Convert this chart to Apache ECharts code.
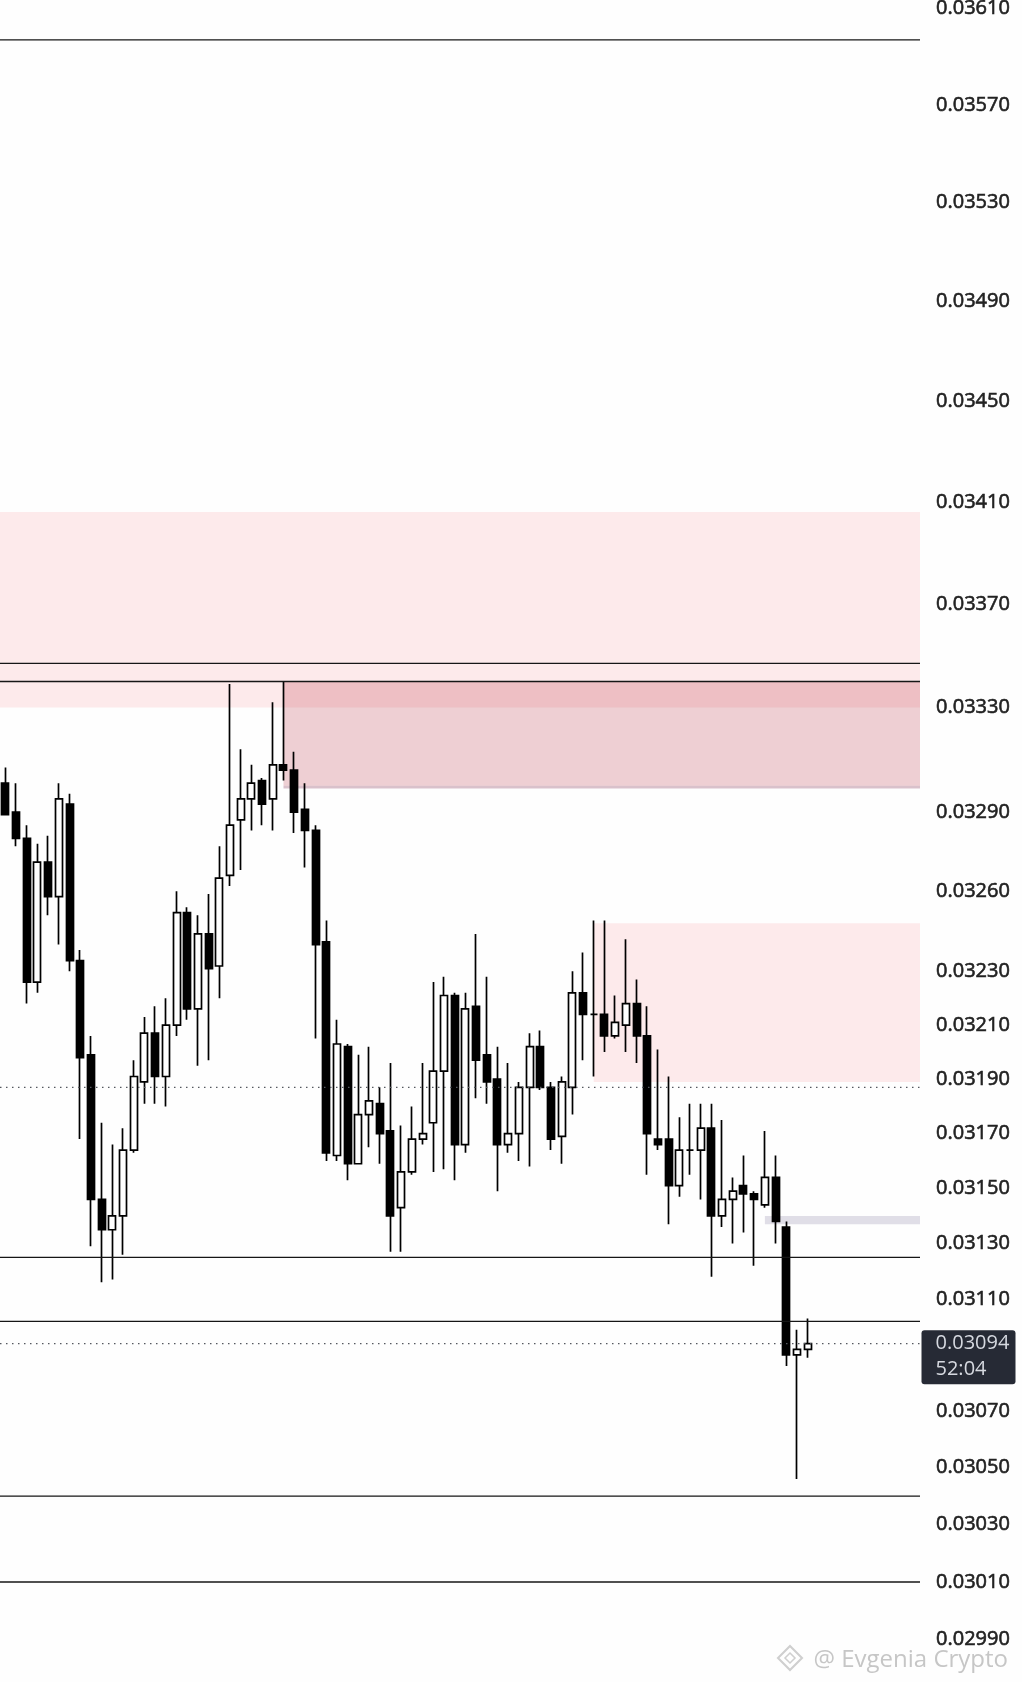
<!DOCTYPE html>
<html>
<head>
<meta charset="utf-8">
<script src="https://cdn.jsdelivr.net/npm/echarts@6/dist/echarts.min.js"></script>
<style>
html,body{margin:0;padding:0;background:#fefefe;}
#c{width:1022px;height:1682px;}
</style>
</head>
<body>
<div id="c"></div>
<script>
// ---- data ----
const candleOpen = [
0.03301,0.03290,0.03280,0.03226,0.03271,0.03258,0.03293,0.03234,0.03199,0.03146,
0.03135,0.03140,0.03164,0.03189,0.03207,0.03191,0.03210,0.03252,0.03216,0.03244,
0.03232,0.03266,0.03287,0.03295,0.03302,0.03295,0.03308,0.03306,0.03291,0.03283,
0.03241,0.03162,0.03202,0.03159,0.03177,0.03181,0.03171,0.03143,0.03156,0.03168,
0.03174,0.03193,0.03221,0.03166,0.03217,0.03199,0.03190,0.03166,0.03170,0.03187,
0.03202,0.03187,0.03169,0.03187,0.03222,0.03214,0.03214,0.03206,0.03210,0.03218,
0.03206,0.03168,0.03168,0.03151,0.03164,0.03164,0.03172,0.03140,0.03146,0.03151,
0.03148,0.03144,0.03154,0.03136,0.03090,0.03092];
const candleHigh = [
0.03307,0.03301,0.03285,0.03278,0.03281,0.03301,0.03297,0.03238,0.03206,0.03174,
0.03166,0.03172,0.03197,0.03213,0.03217,0.03220,0.03260,0.03254,0.03251,0.03259,
0.03277,0.03339,0.03314,0.03308,0.03303,0.03332,0.03340,0.03313,0.03301,0.03285,
0.03249,0.03212,0.03203,0.03199,0.03202,0.03187,0.03196,0.03173,0.03180,0.03196,
0.03226,0.03228,0.03222,0.03222,0.03244,0.03228,0.03202,0.03196,0.03189,0.03207,
0.03208,0.03189,0.03191,0.03230,0.03237,0.03249,0.03249,0.03221,0.03242,0.03227,
0.03217,0.03201,0.03191,0.03176,0.03181,0.03181,0.03181,0.03175,0.03154,0.03162,
0.03149,0.03171,0.03162,0.03138,0.03099,0.03103];
const candleLow = [
0.03289,0.03277,0.03218,0.03222,0.03251,0.03240,0.03230,0.03168,0.03129,0.03116,
0.03117,0.03126,0.03163,0.03181,0.03181,0.03180,0.03206,0.03212,0.03195,0.03197,
0.03220,0.03262,0.03268,0.03283,0.03285,0.03283,0.03302,0.03282,0.03269,0.03205,
0.03160,0.03160,0.03153,0.03159,0.03165,0.03159,0.03127,0.03127,0.03155,0.03166,
0.03156,0.03157,0.03153,0.03163,0.03183,0.03181,0.03149,0.03163,0.03160,0.03158,
0.03186,0.03164,0.03159,0.03177,0.03197,0.03191,0.03200,0.03205,0.03200,0.03196,
0.03155,0.03164,0.03137,0.03147,0.03155,0.03146,0.03118,0.03136,0.03130,0.03134,
0.03122,0.03143,0.03130,0.03086,0.03046,0.03089];
const candleClose = [
0.03289,0.03280,0.03226,0.03271,0.03258,0.03295,0.03234,0.03198,0.03146,0.03135,
0.03140,0.03164,0.03191,0.03207,0.03191,0.03210,0.03252,0.03216,0.03244,0.03231,
0.03265,0.03285,0.03295,0.03301,0.03293,0.03308,0.03306,0.03290,0.03283,0.03240,
0.03163,0.03203,0.03159,0.03177,0.03182,0.03170,0.03140,0.03156,0.03168,0.03170,
0.03193,0.03221,0.03166,0.03216,0.03197,0.03189,0.03166,0.03170,0.03187,0.03202,
0.03187,0.03168,0.03189,0.03222,0.03214,0.03214,0.03206,0.03211,0.03218,0.03206,
0.03170,0.03166,0.03151,0.03164,0.03164,0.03172,0.03140,0.03146,0.03149,0.03148,
0.03146,0.03154,0.03138,0.03090,0.03092,0.03094];

const yTickValues = [0.03610,0.03570,0.03530,0.03490,0.03450,0.03410,0.03370,0.03330,
  0.03290,0.03260,0.03230,0.03210,0.03190,0.03170,0.03150,0.03130,0.03110,
  0.03070,0.03050,0.03030,0.03010,0.02990];
const solidLevels = [0.03597, 0.03347, 0.03340, 0.03125, 0.03102, 0.03040, 0.03010];
const dottedLevels = [0.03187, 0.03094];
const zoneRanges = [[0.03406, 0.03340], [0.03340, 0.03300], [0.03300, 0.03299],
  [0.03340, 0.03330], [0.03248, 0.03189], [0.03140, 0.03137]];
const zoneStartIndex = [null, 26, 26, null, 55, 71];
const priceTagTime = '52:04';
const watermarkText = '@ Evgenia Crypto';
const slotCount = 86;
const yMin = 0.029754, yMax = 0.036136;

// ---- styles ----
const zoneColors = ['rgba(242,54,69,0.10)', 'rgba(180,40,60,0.22)', 'rgba(150,80,110,0.35)',
  'rgba(242,54,69,0.10)', 'rgba(242,54,69,0.10)', 'rgba(120,110,150,0.22)'];
const lineColor = '#161616';
const fontFam = '"Open Sans", "Noto Sans", sans-serif';

const categories = Array.from({length: slotCount}, (_, i) => String(i));
const ohlc = candleOpen.map((o, i) => [o, candleClose[i], candleLow[i], candleHigh[i]]);
const lastClose = candleClose[candleClose.length - 1];

const areaData = zoneRanges.map((r, k) => {
  const a = {yAxis: r[0], itemStyle: {color: zoneColors[k]}};
  if (zoneStartIndex[k] !== null) a.xAxis = zoneStartIndex[k];
  return [a, {yAxis: r[1]}];
});

function levelSeries(v, style) {
  return {
    type: 'line', xAxisIndex: 1, yAxisIndex: 0, silent: true, symbol: 'none',
    data: [[0, v], [1, v]], lineStyle: style, z: 3
  };
}
const levelSeriesList = solidLevels.map(v => levelSeries(v, {color: lineColor, width: 1.4, type: 'solid'}))
  .concat(dottedLevels.map(v => levelSeries(v, {color: '#55585f', width: 1.2, type: [1.5, 4.5]})));

const chart = echarts.init(document.getElementById('c'), null, {renderer: 'canvas'});
const gridRight = 102;
chart.setOption({
  backgroundColor: '#fefefe',
  animation: false,
  grid: {left: 0, right: gridRight, top: 0, bottom: 0, containLabel: false, outerBoundsMode: 'none'},
  xAxis: [
    {type: 'category', data: categories, boundaryGap: true, show: false},
    {type: 'value', min: 0, max: 1, show: false}
  ],
  yAxis: {
    type: 'log', logBase: 10, position: 'right', min: yMin, max: yMax,
    axisLine: {show: false}, axisTick: {show: false}, splitLine: {show: false},
    minorTick: {show: false}, minorSplitLine: {show: false},
    axisLabel: {
      customValues: yTickValues, formatter: v => Number(v).toFixed(5),
      margin: 16, fontSize: 20, color: '#222222', fontFamily: fontFam,
      textBorderColor: '#222222', textBorderWidth: 0.6,
      showMinLabel: true, showMaxLabel: true
    }
  },
  series: [{
    type: 'candlestick',
    data: ohlc,
    barWidth: 7.5,
    itemStyle: {color: '#ffffff', color0: '#000000', borderColor: '#000000', borderColor0: '#000000', borderWidth: 1.7},
    markArea: {silent: true, data: areaData}
  }].concat(levelSeriesList)
});

const plotRight = chart.getWidth() - gridRight;
const yTag = chart.convertToPixel({yAxisIndex: 0}, lastClose);
chart.setOption({
  graphic: [
    {type: 'rect', z: 100, shape: {x: plotRight + 1.5, y: yTag - 13.5, width: 94, height: 54, r: 3},
     style: {fill: '#262a35'}},
    {type: 'text', z: 101, x: plotRight + 15.5, y: yTag,
     style: {text: lastClose.toFixed(5), font: '20px ' + fontFam, fill: '#d6d9e0',
             align: 'left', verticalAlign: 'middle', textAlign: 'left', textVerticalAlign: 'middle'}},
    {type: 'text', z: 101, x: plotRight + 15.5, y: yTag + 26,
     style: {text: priceTagTime, font: '20px ' + fontFam, fill: '#d6d9e0',
             align: 'left', verticalAlign: 'middle', textAlign: 'left', textVerticalAlign: 'middle'}},
    {type: 'text', z: 90, right: 14, bottom: 10,
     style: {text: watermarkText, font: '24px ' + fontFam, fill: 'rgba(160,160,160,0.6)'}},
    {type: 'polygon', z: 90, shape: {points: [[790, 1646], [802, 1658], [790, 1670], [778, 1658]]},
     style: {fill: 'none', stroke: 'rgba(160,160,160,0.5)', lineWidth: 2}},
    {type: 'polygon', z: 90, shape: {points: [[790, 1653], [795, 1658], [790, 1663], [785, 1658]]},
     style: {fill: 'none', stroke: 'rgba(160,160,160,0.5)', lineWidth: 1.5}}
  ]
});
</script>
</body>
</html>
